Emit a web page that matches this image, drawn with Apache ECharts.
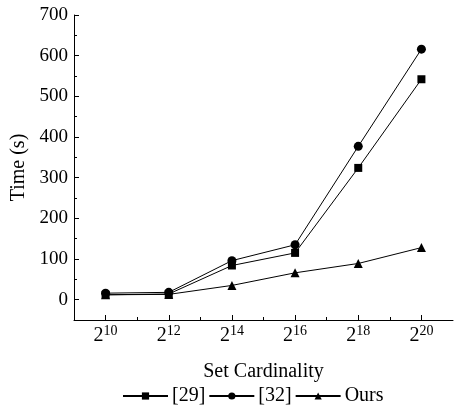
<!DOCTYPE html>
<html>
<head>
<meta charset="utf-8">
<script src="https://cdn.jsdelivr.net/npm/echarts@6/dist/echarts.min.js"></script>
<style>
  html, body { margin: 0; padding: 0; background: #fff; }
  #chart { width: 454px; height: 416px; }
</style>
</head>
<body>
<div id="chart"></div>
<script>
// exponents of 2 for set cardinality
const exponents = [10, 12, 14, 16, 18, 20];
const ref29 = [12, 14, 84, 115, 324, 542];
const ref32 = [16, 18, 96, 135, 377, 616];
const ours = [12, 13, 35, 66, 89, 128];
const yTicks = [0, 100, 200, 300, 400, 500, 600, 700];

const font = "Liberation Serif";

function pairs(vals) {
  return exponents.map((e, i) => [e, vals[i]]);
}

const seriesDefault = {
  type: 'line',
  symbolSize: 8,
  lineStyle: { color: '#000', width: 1 },
  itemStyle: { color: '#000' },
  emphasis: { disabled: true }
};

const xRange = { type: 'value', min: 9, max: 21, interval: 1, position: 'bottom' };
const yRange = { type: 'value', min: -50, max: 700, interval: 50, position: 'left' };

const chart = echarts.init(document.getElementById('chart'));
chart.setOption({
  animation: false,
  textStyle: { fontFamily: font },
  grid: { left: 74, right: 1, top: 15, bottom: 96 },
  legend: {
    top: 381,
    left: 117,
    itemWidth: 45,
    itemHeight: 9,
    itemGap: 3,
    textStyle: { fontFamily: font, fontSize: 20, color: '#000', padding: [0, 0, 0, -1] },
    data: ['[29]', '[32]', 'Ours']
  },
  xAxis: [
    {
      ...xRange,
      name: 'Set Cardinality',
      nameLocation: 'middle',
      nameGap: 42,
      nameTextStyle: { fontFamily: font, fontSize: 20, color: '#000' },
      axisLine: { onZero: false, lineStyle: { color: '#000', width: 1 } },
      axisTick: { inside: true, length: 3, lineStyle: { color: '#000' } },
      splitLine: { show: false },
      axisLabel: {
        margin: 4,
        showMinLabel: false,
        showMaxLabel: false,
        formatter: v => (v % 2 === 0 ? '{b|2}{s|' + v + '}' : ''),
        rich: {
          b: { fontFamily: font, fontSize: 20, color: '#000' },
          s: { fontFamily: font, fontSize: 14, color: '#000', padding: [0, 0, 10, 0] }
        }
      }
    },
    {
      // longer major ticks
      ...xRange,
      axisLine: { show: false, onZero: false },
      axisTick: { inside: true, length: 5, customValues: exponents, lineStyle: { color: '#000' } },
      axisLabel: { show: false },
      splitLine: { show: false }
    }
  ],
  yAxis: [
    {
      ...yRange,
      name: 'Time (s)',
      nameLocation: 'middle',
      nameGap: 39,
      nameTextStyle: { fontFamily: font, fontSize: 20, color: '#000' },
      axisLine: { show: true, onZero: false, lineStyle: { color: '#000', width: 1 } },
      axisTick: { inside: true, length: 3, lineStyle: { color: '#000' } },
      splitLine: { show: false },
      axisLabel: {
        margin: 6,
        fontFamily: font,
        fontSize: 19,
        color: '#000',
        formatter: v => (yTicks.includes(v) ? String(v) : '')
      }
    },
    {
      ...yRange,
      axisLine: { show: false, onZero: false },
      axisTick: { show: true, inside: true, length: 5, customValues: yTicks, lineStyle: { color: '#000' } },
      axisLabel: { show: false },
      splitLine: { show: false }
    }
  ],
  series: [
    { ...seriesDefault, name: '[29]', symbol: 'rect', symbolSize: 8, data: pairs(ref29) },
    { ...seriesDefault, name: '[32]', symbol: 'circle', symbolSize: 9, data: pairs(ref32) },
    { ...seriesDefault, name: 'Ours', symbol: 'triangle', symbolSize: 9, data: pairs(ours) }
  ]
});
</script>
</body>
</html>
